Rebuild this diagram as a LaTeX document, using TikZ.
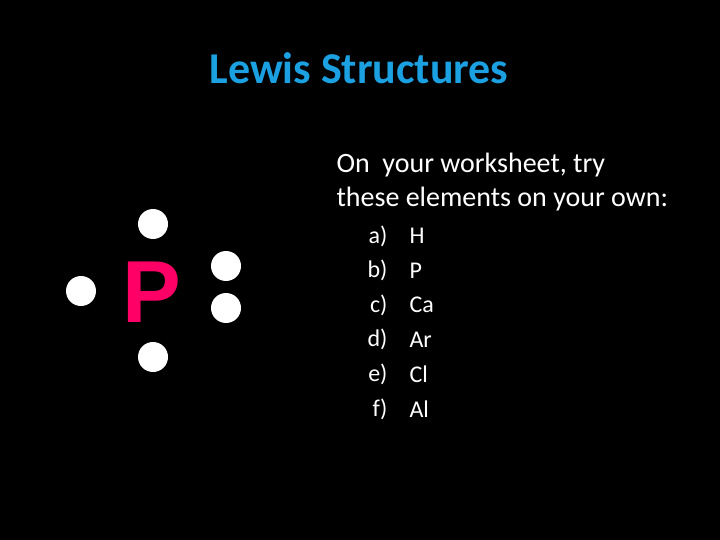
\documentclass[tikz,border=0pt]{standalone}
\usepackage{fontspec}
\setmainfont{Carlito}
\newfontfamily\arialfont{Liberation Sans}
\definecolor{titleblue}{HTML}{1BA1E2}
\definecolor{symbolpink}{HTML}{FF0066}
\begin{document}
\begin{tikzpicture}[x=1pt,y=-1pt]
\tikzset{electron/.style={circle, fill=white, minimum size=30pt, inner sep=0pt}}

% Background
\fill[black] (0,0) rectangle (720,540);
\useasboundingbox (0,0) rectangle (720,540);

% Title
\node[text=titleblue, font=\fontsize{44}{48}\selectfont\bfseries] (title) at (359,68) {Lewis Structures};

% Instructions
\node[text=white, anchor=west, align=left, font=\fontsize{28}{34}\selectfont] (intro) at (333,182)
  {On\ \ your worksheet, try\\these elements on your own:};

% List of elements
\foreach \lab/\el [count=\i] in {a)/H, b)/P, c)/Ca, d)/Ar, e)/Cl, f)/Al} {
  \node[text=white, anchor=east, font=\fontsize{24}{28}\selectfont] (lab\i) at (391,236+34.6*\i-34.6) {\lab};
  \node[text=white, anchor=west, font=\fontsize{24}{28}\selectfont] (el\i) at (406,236+34.6*\i-34.6) {\el};
}

% Phosphorus symbol with valence electrons
\node[text=symbolpink, draw=none, font=\arialfont\fontsize{88}{88}\selectfont\bfseries] (sym) at (152,292) {P};
\node[electron] (top) at (153,224) {};
\node[electron] (left) at (81,291) {};
\node[electron] (right1) at (226,266) {};
\node[electron] (right2) at (226,308) {};
\node[electron] (bottom) at (153,357) {};

\end{tikzpicture}
\end{document}
